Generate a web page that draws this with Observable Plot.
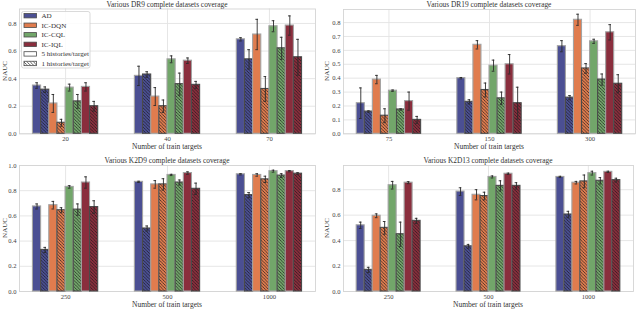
<!DOCTYPE html>
<html><head><meta charset="utf-8">
<script src="https://cdn.jsdelivr.net/npm/d3@7"></script>
<script src="https://cdn.jsdelivr.net/npm/@observablehq/plot@0.6"></script>
<style>
body{margin:0;background:#fff;}
#wrap{position:relative;width:640px;height:309px;font-family:"Liberation Serif",serif;color:#333;overflow:hidden;}
.panel{position:absolute;}
.lbl{position:absolute;white-space:nowrap;font-size:7.4px;line-height:1;color:#333;}
</style></head><body><div id="wrap"></div>
<script>
const methods = ["AD","IC-DQN","IC-CQL","IC-IQL"];
const methodColors = ["#4b4f93","#e07c4e","#72a66a","#8a2e3d"];
const variants = ["5 histories/target","1 histories/target"];

// DR9
const dr9Targets = ["20","40","70"];
const dr9Mean5 = [[0.35,0.42,0.685],[0.22,0.27,0.72],[0.335,0.54,0.78],[0.34,0.53,0.785]];
const dr9Err5  = [[0.02,0.07,0.012],[0.065,0.065,0.11],[0.025,0.025,0.04],[0.03,0.02,0.07]];
const dr9Mean1 = [[0.32,0.43,0.54],[0.08,0.20,0.325],[0.235,0.36,0.62],[0.20,0.355,0.555]];
const dr9Err1  = [[0.02,0.02,0.07],[0.025,0.045,0.09],[0.05,0.08,0.08],[0.035,0.025,0.13]];
const dr9Ticks = [0,0.2,0.4,0.6,0.8];

// DR19
const dr19Targets = ["75","150","300"];
const dr19Mean5 = [[0.22,0.40,0.63],[0.39,0.64,0.82],[0.31,0.49,0.665],[0.235,0.50,0.73]];
const dr19Err5  = [[0.11,0.005,0.04],[0.03,0.03,0.04],[0.005,0.04,0.015],[0.065,0.07,0.055]];
const dr19Mean1 = [[0.16,0.23,0.26],[0.13,0.315,0.47],[0.175,0.255,0.39],[0.10,0.22,0.36]];
const dr19Err1  = [[0.005,0.015,0.015],[0.05,0.05,0.035],[0.005,0.045,0.04],[0.025,0.115,0.065]];
const dr19Ticks = [0,0.1,0.2,0.3,0.4,0.5,0.6,0.7,0.8];

// K2D9
const k2d9Targets = ["250","500","1000"];
const k2d9Mean5 = [[0.675,0.87,0.93],[0.685,0.85,0.925],[0.83,0.925,0.955],[0.865,0.94,0.955]];
const k2d9Err5  = [[0.02,0.005,0.005],[0.03,0.03,0.01],[0.01,0.005,0.008],[0.045,0.01,0.005]];
const k2d9Mean1 = [[0.33,0.50,0.765],[0.645,0.85,0.89],[0.65,0.865,0.92],[0.67,0.815,0.935]];
const k2d9Err1  = [[0.02,0.02,0.02],[0.02,0.045,0.025],[0.045,0.02,0.015],[0.05,0.045,0.008]];
const k2d9Ticks = [0,0.2,0.4,0.6,0.8,1.0];

// K2D13
const k2d13Targets = ["250","500","1000"];
const k2d13Mean5 = [[0.52,0.785,0.90],[0.595,0.76,0.855],[0.835,0.90,0.93],[0.855,0.925,0.94]];
const k2d13Err5  = [[0.025,0.03,0.005],[0.015,0.04,0.01],[0.03,0.008,0.015],[0.008,0.005,0.005]];
const k2d13Mean1 = [[0.17,0.355,0.605],[0.50,0.75,0.865],[0.45,0.83,0.87],[0.555,0.83,0.875]];
const k2d13Err1  = [[0.02,0.015,0.025],[0.05,0.03,0.05],[0.095,0.04,0.025],[0.02,0.025,0.015]];
const k2d13Ticks = [0,0.2,0.4,0.6,0.8];

const titles = ["Various DR9 complete datasets coverage","Various DR19 complete datasets coverage",
                "Various K2D9 complete datasets coverage","Various K2D13 complete datasets coverage"];
const xLabel = "Number of train targets";
const yLabel = "NAUC";

const wrap = document.getElementById("wrap");
const FONT = '"Liberation Serif", serif';
const barW = 0.08;

function addHatch(svg, id, color, bg) {
  const s = 3.2;
  const defs = d3.select(svg).insert("defs", ":first-child");
  const p = defs.append("pattern").attr("id", id).attr("patternUnits", "userSpaceOnUse")
    .attr("width", s).attr("height", s);
  p.append("rect").attr("width", s).attr("height", s).attr("fill", bg);
  p.append("path").attr("d", `M-1,-1 L${s+1},${s+1} M-1,${s-1} L1,${s+1} M${s-1},-1 L${s+1},1`)
    .attr("stroke", color).attr("stroke-width", 0.8).attr("stroke-opacity", 0.85);
}

function panel(cfg) {
  const {key, targets, mean5, err5, mean1, err1, yMax, yTicks, left, top, width, height, mL, mR, mT, mB, title} = cfg;
  const rows = [];
  targets.forEach((t, g) => methods.forEach((m, mi) => [0, 1].forEach(v => {
    const mean = v ? mean1[mi][g] : mean5[mi][g];
    const err = v ? err1[mi][g] : err5[mi][g];
    const k = mi * 2 + v;
    const pos = g + (k - 3.5) * barW;
    rows.push({g, mi, v, mean, lo: mean - err, hi: mean + err, pos,
      x1: pos - barW / 2, x2: pos + barW / 2,
      fill: v ? `url(#h-${key}-${mi})` : methodColors[mi],
      stroke: v ? "#4a4a4a" : "#a3a3a3"});
  })));
  const cap = 0.013;
  const svg = Plot.plot({
    width, height, marginLeft: mL, marginRight: mR, marginTop: mT, marginBottom: mB,
    style: {fontFamily: FONT, fontSize: "6.6px", color: "#444", background: "transparent"},
    color: {type: "identity"},
    x: {domain: [-0.452, 2.452], ticks: [0, 1, 2], tickFormat: i => targets[i], tickSize: 0, tickPadding: 2.5, label: null},
    y: {domain: [0, yMax], ticks: yTicks, tickFormat: d3.format(".1f"), tickSize: 0, tickPadding: 3, label: null},
    marks: [
      Plot.ruleY(yTicks, {stroke: "#e3e3e3", strokeWidth: 0.9}),
      Plot.ruleX([0, 1, 2], {stroke: "#e3e3e3", strokeWidth: 0.9}),
      Plot.frame({stroke: "#d4d4d4", strokeWidth: 0.9}),
      Plot.rectY(rows, {x1: "x1", x2: "x2", y: "mean", fill: "fill", stroke: "stroke", strokeWidth: 1.1}),
      Plot.ruleX(rows, {x: "pos", y1: "lo", y2: "hi", stroke: "#2a2a2a", strokeWidth: 0.9}),
      Plot.ruleY(rows, {y: "lo", x1: d => d.pos - cap, x2: d => d.pos + cap, stroke: "#2a2a2a", strokeWidth: 0.9}),
      Plot.ruleY(rows, {y: "hi", x1: d => d.pos - cap, x2: d => d.pos + cap, stroke: "#2a2a2a", strokeWidth: 0.9})
    ]
  });
  methods.forEach((m, mi) => addHatch(svg, `h-${key}-${mi}`, "#1a1a1a", methodColors[mi]));
  svg.classList.add("panel");
  svg.style.left = left + "px";
  svg.style.top = top + "px";
  wrap.appendChild(svg);

  const cx = left + mL + (width - mL - mR) / 2;
  const cy = top + mT + (height - mT - mB) / 2;
  const t = document.createElement("div");
  t.className = "lbl"; t.textContent = title;
  t.style.left = cx + "px"; t.style.top = (top + cfg.titleY) + "px"; t.style.transform = "translate(-50%,-50%)";
  wrap.appendChild(t);
  const xl = document.createElement("div");
  xl.className = "lbl"; xl.textContent = xLabel; xl.style.fontSize = "7.5px";
  xl.style.left = cx + "px"; xl.style.top = (top + cfg.xLabelY) + "px"; xl.style.transform = "translate(-50%,-50%)";
  wrap.appendChild(xl);
  const yl = document.createElement("div");
  yl.className = "lbl"; yl.textContent = yLabel; yl.style.fontSize = "7px";
  yl.style.left = (left + cfg.yLabelX) + "px"; yl.style.top = cy + "px"; yl.style.transform = "translate(-50%,-50%) rotate(-90deg)";
  wrap.appendChild(yl);
}

panel({key: "dr9", targets: dr9Targets, mean5: dr9Mean5, err5: dr9Err5, mean1: dr9Mean1, err1: dr9Err1,
  yMax: 0.905, yTicks: dr9Ticks, left: 0, top: 0, width: 320, height: 152, mL: 19, mR: 5, mT: 8.5, mB: 18.7,
  title: titles[0], titleY: 4.5, xLabelY: 147, yLabelX: 4.5});
panel({key: "dr19", targets: dr19Targets, mean5: dr19Mean5, err5: dr19Err5, mean1: dr19Mean1, err1: dr19Err1,
  yMax: 0.894, yTicks: dr19Ticks, left: 320, top: 0, width: 320, height: 152, mL: 23, mR: 5, mT: 9, mB: 18.7,
  title: titles[1], titleY: 4.5, xLabelY: 147, yLabelX: 7});
panel({key: "k2d9", targets: k2d9Targets, mean5: k2d9Mean5, err5: k2d9Err5, mean1: k2d9Mean1, err1: k2d9Err1,
  yMax: 1.0, yTicks: k2d9Ticks, left: 0, top: 152, width: 320, height: 157, mL: 19, mR: 5, mT: 13, mB: 18,
  title: titles[2], titleY: 9, xLabelY: 152.5, yLabelX: 4.5});
panel({key: "k2d13", targets: k2d13Targets, mean5: k2d13Mean5, err5: k2d13Err5, mean1: k2d13Mean1, err1: k2d13Err1,
  yMax: 0.99, yTicks: k2d13Ticks, left: 320, top: 152, width: 320, height: 157, mL: 23, mR: 7, mT: 13, mB: 18,
  title: titles[3], titleY: 9, xLabelY: 152.5, yLabelX: 7});

// Legend (top-left panel)
(function legend() {
  const lg = d3.create("svg").attr("width", 70).attr("height", 58)
    .style("position", "absolute").style("left", "21px").style("top", "11px");
  addHatch(lg.node(), "h-legend", "#1a1a1a", "#ffffff");
  lg.append("rect").attr("x", 0.5).attr("y", 0.5).attr("width", 68.5).attr("height", 56.5).attr("rx", 2)
    .attr("fill", "white").attr("fill-opacity", 0.85).attr("stroke", "#d0d0d0").attr("stroke-width", 0.8);
  const items = methods.map((m, i) => ({label: m, fill: methodColors[i], stroke: "#4a4a4a"}))
    .concat([{label: variants[0], fill: "#ffffff", stroke: "#4a4a4a"}, {label: variants[1], fill: "url(#h-legend)", stroke: "#4a4a4a"}]);
  items.forEach((it, i) => {
    const y = 4.7 + i * 9.55;
    lg.append("rect").attr("x", 3).attr("y", y - 2.2).attr("width", 12.5).attr("height", 4.4)
      .attr("fill", it.fill).attr("stroke", it.stroke).attr("stroke-width", 0.8);
    lg.append("text").attr("x", 20.5).attr("y", y).attr("dy", "0.35em").attr("font-family", FONT)
      .attr("font-size", 7.1).attr("fill", "#333").text(it.label);
  });
  wrap.appendChild(lg.node());
})();
</script></body></html>
